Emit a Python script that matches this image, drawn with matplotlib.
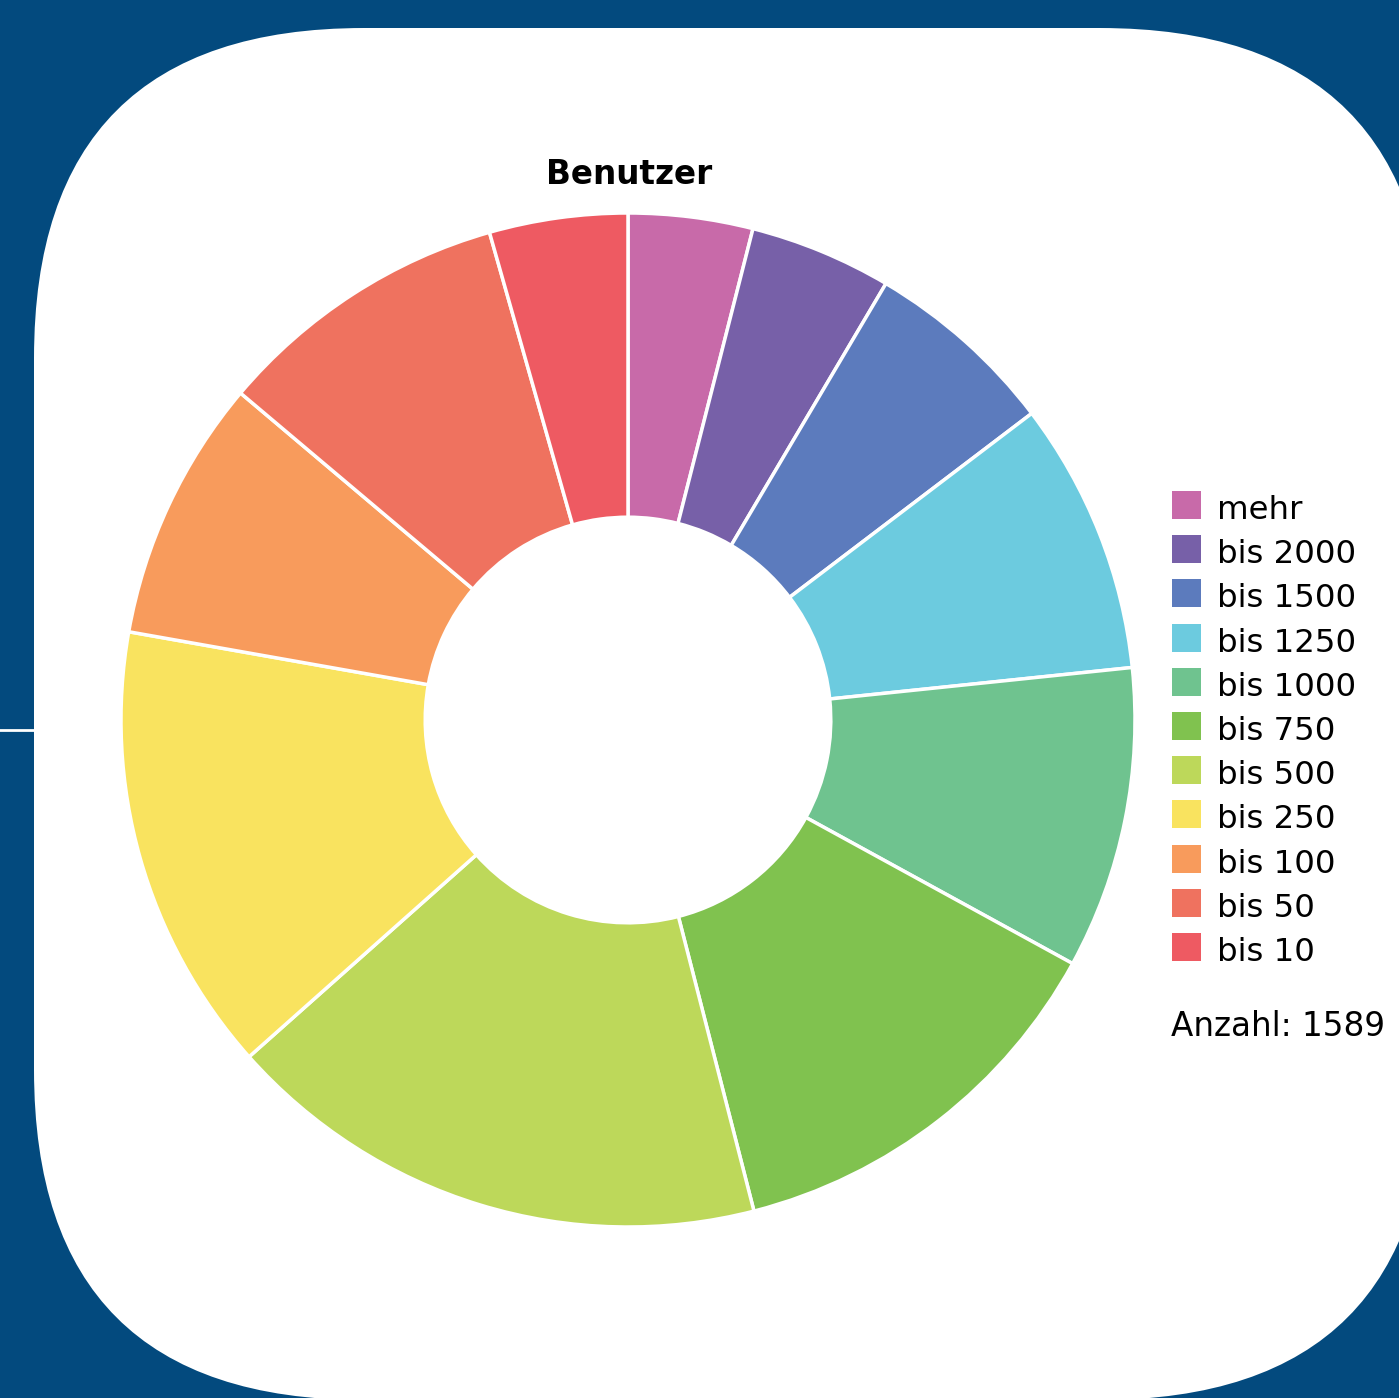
import matplotlib
matplotlib.use("Agg")
import matplotlib.pyplot as plt
from matplotlib.patches import FancyBboxPatch, Rectangle

# Daten
labels = ['mehr', 'bis 2000', 'bis 1500', 'bis 1250', 'bis 1000', 'bis 750',
          'bis 500', 'bis 250', 'bis 100', 'bis 50', 'bis 10']
counts = [63, 72, 98, 138, 153, 207, 277, 228, 133, 150, 70]
colors = ['#c86aa9', '#7760a8', '#5c7bbd', '#6ccbdf', '#6fc38f', '#80c24f',
          '#bdd85a', '#f9e35f', '#f89b5c', '#ef725f', '#ee5a62']
title = 'Benutzer'
total_label = 'Anzahl: %d' % sum(counts)

W, H = 1399, 1398
fig = plt.figure(figsize=(W / 100, H / 100), dpi=100)
fig.patch.set_facecolor('#034a7e')

# Hintergrund in Pixelkoordinaten
bg = fig.add_axes([0, 0, 1, 1])
bg.set_xlim(0, W)
bg.set_ylim(H, 0)
bg.axis('off')
bg.add_patch(FancyBboxPatch((34, 28), 1396, 1372,
                            boxstyle='round,pad=0,rounding_size=330',
                            facecolor='white', edgecolor='none'))
bg.plot([0, 34], [729.5, 729.5], color='white', lw=2)

# Donut
cx, cy, r = 628, 720, 507
ax = fig.add_axes([(cx - r) / W, (H - cy - r) / H, 2 * r / W, 2 * r / H])
ax.pie(counts, colors=colors, startangle=90, counterclock=False, radius=1,
       wedgeprops=dict(width=0.6, edgecolor='white', linewidth=2.5))
ax.set_xlim(-1, 1)
ax.set_ylim(-1, 1)
ax.set_aspect('equal')

bg.text(629, 184, title, ha='center', va='baseline', fontsize=23.5,
        fontweight='bold', color='black')

# Legende
for i, (lab, col) in enumerate(zip(labels, colors)):
    y = 505 + i * 44.2
    bg.add_patch(Rectangle((1172, y - 14), 29, 28, facecolor=col, edgecolor='none'))
    bg.text(1217, y + 14, lab, ha='left', va='baseline', fontsize=23.3, color='black')

bg.text(1171, 1036, total_label, ha='left', va='baseline', fontsize=23.5, color='black')

fig.savefig('out.png', dpi=100, facecolor=fig.get_facecolor())
